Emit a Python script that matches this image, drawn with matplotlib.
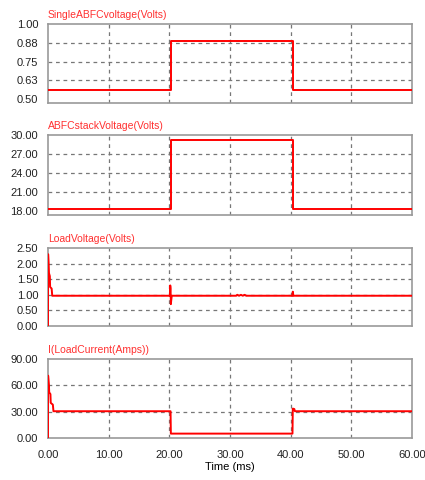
import numpy as np
import matplotlib
matplotlib.use("Agg")
import matplotlib.pyplot as plt

plt.rcParams["font.family"] = ["Liberation Sans", "DejaVu Sans"]

# ---------------------------------------------------------------------------
# Data
# ---------------------------------------------------------------------------
single_t = [0.0, 20.2, 20.2, 40.4, 40.4, 60.0]
single_v = [0.56, 0.56, 0.885, 0.885, 0.56, 0.56]

stack_t = [0.0, 20.2, 20.2, 40.4, 40.4, 60.0]
stack_v = [18.25, 18.25, 29.2, 29.2, 18.25, 18.25]

load_v_t = [0.0, 0.02, 0.1, 0.15, 0.3, 0.35, 0.6, 0.7, 20.1, 20.15, 20.2, 20.25,
            20.3, 20.4, 31.0, 31.2, 31.5, 31.8, 32.1, 32.4, 32.7, 33.0, 40.3,
            40.35, 40.45, 60.0]
load_v = [0.0, 2.3, 2.0, 1.7, 1.6, 1.25, 1.2, 0.97, 0.97, 1.3, 1.2, 0.7,
          0.8, 0.97, 0.97, 1.0, 0.97, 1.0, 0.97, 1.0, 0.97, 0.97, 0.97,
          1.1, 0.97, 0.97]

load_i_t = [0.0, 0.02, 0.15, 0.2, 0.4, 0.45, 0.8, 0.9, 20.2, 20.25, 40.3, 40.35,
            40.6, 40.7, 60.0]
load_i = [0.0, 71.0, 60.0, 52.0, 50.0, 40.0, 38.0, 30.5, 30.5, 5.0, 5.0, 33.5,
          33.0, 30.5, 30.5]

panels = [
    ("SingleABFCvoltage(Volts)", single_t, single_v,
     [0.5, 0.625, 0.75, 0.875, 1.0], ["0.50", "0.63", "0.75", "0.88", "1.00"], (0.475, 1.0)),
    ("ABFCstackVoltage(Volts)", stack_t, stack_v,
     [18, 21, 24, 27, 30], ["18.00", "21.00", "24.00", "27.00", "30.00"], (17.37, 30.0)),
    ("LoadVoltage(Volts)", load_v_t, load_v,
     [0, 0.5, 1.0, 1.5, 2.0, 2.5], ["0.00", "0.50", "1.00", "1.50", "2.00", "2.50"], (0.0, 2.5)),
    ("I(LoadCurrent(Amps))", load_i_t, load_i,
     [0, 30, 60, 90], ["0.00", "30.00", "60.00", "90.00"], (0.0, 90.0)),
]

x_ticks = [0, 10, 20, 30, 40, 50, 60]
x_labels = ["0.00", "10.00", "20.00", "30.00", "40.00", "50.00", "60.00"]

# axes boxes in pixels (top, bottom) for a 425x480 figure
boxes = [(24, 103), (135, 215), (248, 326), (359, 438)]
W, H = 425, 480
left, right = 48, 412

fig = plt.figure(figsize=(W / 100, H / 100), dpi=100)

for i, ((title, t, v, yt, yl, ylim), (top, bot)) in enumerate(zip(panels, boxes)):
    ax = fig.add_axes([left / W, 1 - bot / H, (right - left) / W, (bot - top) / H])
    ax.plot(t, v, color="#ff0000", linewidth=1.4, zorder=3)
    ax.set_xlim(0, 60)
    ax.set_ylim(*ylim)
    ax.set_yticks(yt)
    ax.set_yticklabels(yl)
    ax.set_xticks(x_ticks)
    if i == 3:
        ax.set_xticklabels(x_labels)
        ax.set_xlabel("Time (ms)", fontsize=8, labelpad=1)
    else:
        ax.set_xticklabels([])
    ax.tick_params(axis="y", length=0, labelsize=8, colors="#222222", pad=7)
    ax.tick_params(axis="x", length=0, labelsize=8, colors="#222222", pad=9)
    # grid lines at interior ticks only
    for x in x_ticks[1:-1]:
        ax.axvline(x, color="#777777", linestyle=(0, (3, 3)), linewidth=0.9, zorder=1)
    for y in yt[1:]:
        if y < ylim[1] - 1e-9:
            ax.axhline(y, color="#777777", linestyle=(0, (3, 3)), linewidth=0.9, zorder=1)
    for s in ax.spines.values():
        s.set_color("#999999")
        s.set_linewidth(1.2)
    ax.text(0.0, 1.05, title, transform=ax.transAxes, color="#ff3030",
            fontsize=7.5, ha="left", va="bottom")

fig.savefig("out.png", dpi=100)
